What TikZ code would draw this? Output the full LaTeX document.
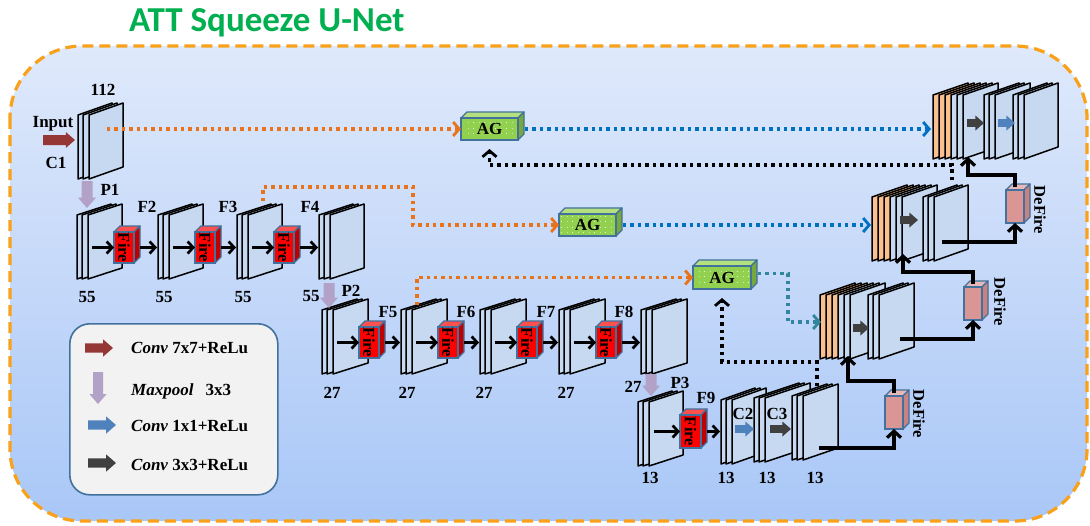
\documentclass[tikz,border=0pt]{standalone}
\usepackage{fontspec}
\setmainfont{Liberation Serif}
\newfontfamily\titlefont{Carlito}
\usetikzlibrary{arrows.meta,calc,patterns.meta}
\definecolor{sheetc}{HTML}{C6D9F1}
\definecolor{orsheet}{HTML}{FAC090}
\definecolor{dotor}{HTML}{E8731A}
\definecolor{dotbl}{HTML}{0070C0}
\definecolor{dotte}{HTML}{31859C}
\definecolor{boxor}{HTML}{F9A11B}
\definecolor{edgec}{HTML}{41719C}
\definecolor{firef}{HTML}{FF0000}
\definecolor{firet}{HTML}{FF5050}
\definecolor{fires}{HTML}{C00000}
\definecolor{dff}{HTML}{D99694}
\definecolor{dft}{HTML}{E6B9B8}
\definecolor{dfs}{HTML}{C88280}
\definecolor{agf}{HTML}{92D050}
\definecolor{agt}{HTML}{B5E07F}
\definecolor{ags}{HTML}{76A83C}
\definecolor{convred}{HTML}{953735}
\definecolor{poolc}{HTML}{B3A2C7}
\definecolor{convbl}{HTML}{4F81BD}
\definecolor{convgr}{HTML}{404040}
\definecolor{titleg}{HTML}{00B050}
\definecolor{bgtop}{HTML}{DFE9FB}
\definecolor{bgbot}{HTML}{A9C7F7}
\definecolor{legf}{HTML}{F2F2F2}
\tikzdeclarepattern{
  name=agdots,
  type=uncolored,
  bounding box={(0pt,0pt) and (1pt,1pt)},
  tile size={(5.5pt,5.5pt)},
  code={\pgfpathrectangle{\pgfpointorigin}{\pgfpoint{1pt}{1pt}}\pgfusepath{fill}}
}
% one feature sheet: x, ytop, width, slant, colour
\newcommand{\fsheet}[5]{%
  \filldraw[fill=#5, draw=black, line width=1.5pt, line join=round]
   ({#1},{#2}) -- ({#1+#3},{#2-#4}) -- ({#1+#3},{#2+64-#4}) -- ({#1},{#2+64}) -- cycle;}
% a stack of three sheets
\newcommand{\fstack}[4]{%
  \fsheet{#1}{#2}{#3}{#4}{sheetc}\fsheet{#1+5}{#2}{#3}{#4}{sheetc}\fsheet{#1+11}{#2}{#3}{#4}{sheetc}}
% concatenation group: 3 orange + 3 blue sheets
\newcommand{\dgroup}[2]{%
  \fsheet{#1}{#2}{35}{12}{orsheet}\fsheet{#1+6}{#2}{35}{12}{orsheet}\fsheet{#1+12}{#2}{35}{12}{orsheet}%
  \fsheet{#1+18}{#2}{35}{12}{sheetc}\fsheet{#1+24}{#2}{35}{12}{sheetc}\fsheet{#1+30}{#2}{35}{12}{sheetc}}
% cuboid: name, x, y, w, h, depth, front, top, side
\newcommand{\cube}[9]{%
  \filldraw[fill=#8, draw=edgec, line width=1.3pt, line join=round]
    ({#2},{#3}) -- ({#2+#6},{#3-#6}) -- ({#2+#4+#6},{#3-#6}) -- ({#2+#4},{#3}) -- cycle;
  \filldraw[fill=#9, draw=edgec, line width=1.3pt, line join=round]
    ({#2+#4},{#3}) -- ({#2+#4+#6},{#3-#6}) -- ({#2+#4+#6},{#3+#5-#6}) -- ({#2+#4},{#3+#5}) -- cycle;
  \node[draw=edgec, fill=#7, line width=1.3pt, minimum width=#4pt, minimum height=#5pt,
        inner sep=0pt, outer sep=0pt, anchor=north west] (#1) at ({#2},{#3}) {};}
% block arrow right: x1, x2, y, colour, half shaft, half head
\newcommand{\barR}[6]{%
  \fill[#4] ({#1},{#3-#5}) -- ({#2-1.15*#6},{#3-#5}) -- ({#2-1.15*#6},{#3-#6}) -- ({#2},{#3})
    -- ({#2-1.15*#6},{#3+#6}) -- ({#2-1.15*#6},{#3+#5}) -- ({#1},{#3+#5}) -- cycle;}
% block arrow down: x, y1, y2, colour, half shaft, half head
\newcommand{\barD}[6]{%
  \fill[#4] ({#1-#5},{#2}) -- ({#1-#5},{#3-1.15*#6}) -- ({#1-#6},{#3-1.15*#6}) -- ({#1},{#3})
    -- ({#1+#6},{#3-1.15*#6}) -- ({#1+#5},{#3-1.15*#6}) -- ({#1+#5},{#2}) -- cycle;}
\begin{document}
\begin{tikzpicture}[x=1pt,y=-1pt,
  lbl/.style={font=\bfseries\fontsize{17}{17}\selectfont, inner sep=0pt},
  firelbl/.style={font=\bfseries\fontsize{16.5}{16.5}\selectfont, inner sep=0pt, rotate=-90},
  legtxt/.style={font=\bfseries\fontsize{17}{17}\selectfont, inner sep=0pt, anchor=west},
  blk/.style={line width=2.7pt, -{Straight Barb[length=5.5pt,width=12pt]}},
  blkl/.style={line width=3.2pt, -{Straight Barb[length=6.5pt,width=14pt]}},
  odot/.style={dotor, line width=3.2pt, dash pattern=on 3.4pt off 4pt, -{Straight Barb[length=6pt,width=14pt,line width=2.8pt]}},
  bdot/.style={dotbl, line width=3.2pt, dash pattern=on 3.4pt off 4pt, -{Straight Barb[length=6pt,width=14pt,line width=2.8pt]}},
  tdot/.style={dotte, line width=3.2pt, dash pattern=on 3.4pt off 4pt, -{Straight Barb[length=6pt,width=14pt,line width=2.8pt]}},
  kdot/.style={black, line width=3.2pt, dash pattern=on 3.4pt off 4pt, -{Straight Barb[length=6pt,width=14pt,line width=2.8pt]}},
]
\useasboundingbox (0,0) rectangle (1090,525);
\fill[white] (0,0) rectangle (1090,525);
% background frame
\shade[top color=bgtop, bottom color=bgbot, rounded corners=72pt] (10,46) rectangle (1087,521);
\draw[boxor, line width=3.2pt, dash pattern=on 11pt off 6pt, rounded corners=72pt] (10,46) rectangle (1087,521);
\node[anchor=west, text=titleg, font=\titlefont\bfseries\fontsize{35}{35}\selectfont, inner sep=0pt] (title) at (129,23) {ATT Squeeze U-Net};

% legend
\node[draw=edgec, fill=legf, rounded corners=20pt, line width=1.6pt, minimum width=208pt, minimum height=171pt, inner sep=0pt, anchor=north west] (legend) at (69,323) {};
\barR{85}{113}{348}{convred}{4.7}{8.5}
\barD{98}{372}{404}{poolc}{5}{8.5}
\barR{88}{116}{425}{convbl}{4.7}{8.5}
\barR{88}{116}{463}{convgr}{4.7}{8.5}
\node[legtxt] (lg1) at (131,348) {\itshape Conv\upshape{} 7x7+ReLu};
\node[legtxt] (lg2) at (131,391) {\itshape Maxpool\upshape\hspace{12pt}3x3};
\node[legtxt] (lg3) at (131,426) {\itshape Conv\upshape{} 1x1+ReLu};
\node[legtxt] (lg4) at (131,465) {\itshape Conv\upshape{} 3x3+ReLu};

% encoder stacks
\fstack{78}{115}{34}{12}
\fstack{77}{215}{34}{11}\fstack{158}{215}{34}{11}\fstack{237}{215}{34}{11}\fstack{319}{215}{34}{11}
\fstack{322}{310}{35}{11}\fstack{401}{310}{35}{11}\fstack{480}{310}{35}{11}\fstack{559}{310}{35}{11}\fstack{641}{310}{35}{11}
\fstack{638}{402}{34}{11}\fstack{721}{400}{34}{12}\fstack{754}{398}{45}{15}\fstack{792}{396}{35}{12}
% decoder stacks
\dgroup{820}{295}\fstack{868}{295}{35}{12}
\dgroup{872}{197}\fstack{923}{197}{34}{12}
\dgroup{933}{95}\fstack{984}{95}{35}{12}\fstack{1013}{95}{34}{12}

% fire modules
\cube{f2}{114}{232}{20}{31}{6}{firef}{firet}{fires}
\cube{f3}{195}{232}{20}{31}{6}{firef}{firet}{fires}
\cube{f4}{274}{232}{20}{31}{6}{firef}{firet}{fires}
\cube{f5}{359}{327}{20}{31}{6}{firef}{firet}{fires}
\cube{f6}{438}{327}{20}{31}{6}{firef}{firet}{fires}
\cube{f7}{517}{327}{20}{31}{6}{firef}{firet}{fires}
\cube{f8}{596}{327}{20}{31}{6}{firef}{firet}{fires}
\cube{f9}{680}{415}{21}{33}{6}{firef}{firet}{fires}
\foreach \f in {f2,f3,f4,f5,f6,f7,f8,f9}{\node[firelbl] (\f t) at (\f.center) {Fire};}

% in-stack arrows
\coordinate (s2w) at (157,247.5);
\coordinate (s3w) at (236,247.5);
\coordinate (s4w) at (318,247.5);
\coordinate (t2w) at (400,342.5);
\coordinate (t3w) at (479,342.5);
\coordinate (t4w) at (558,342.5);
\coordinate (t5w) at (640,342.5);
\coordinate (u2w) at (720,431.5);
\draw[blk] ($(f2.west)+(-22,0)$) -- (f2.west);
\draw[blk] ($(f2.east)+(6,0)$) -- (s2w);
\draw[blk] ($(f3.west)+(-22,0)$) -- (f3.west);
\draw[blk] ($(f3.east)+(6,0)$) -- (s3w);
\draw[blk] ($(f4.west)+(-22,0)$) -- (f4.west);
\draw[blk] ($(f4.east)+(6,0)$) -- (s4w);
\draw[blk] ($(f5.west)+(-22,0)$) -- (f5.west);
\draw[blk] ($(f5.east)+(6,0)$) -- (t2w);
\draw[blk] ($(f6.west)+(-22,0)$) -- (f6.west);
\draw[blk] ($(f6.east)+(6,0)$) -- (t3w);
\draw[blk] ($(f7.west)+(-22,0)$) -- (f7.west);
\draw[blk] ($(f7.east)+(6,0)$) -- (t4w);
\draw[blk] ($(f8.west)+(-22,0)$) -- (f8.west);
\draw[blk] ($(f8.east)+(6,0)$) -- (t5w);
\draw[blk] ($(f9.west)+(-26,0)$) -- (f9.west);
\draw[blk] ($(f9.east)+(6,0)$) -- (u2w);

% block arrows
\barR{43}{75}{140}{convred}{5}{8}
\barD{87}{181}{208}{poolc}{5.5}{9}
\barD{329}{283}{308}{poolc}{5.5}{9}
\barD{651}{374}{396}{poolc}{5.5}{9}
\barR{735}{754}{429}{convbl}{3.8}{7.5}
\barR{770}{791}{429}{convgr}{3.8}{7.5}
\barR{853}{869}{328}{convgr}{3.8}{7.5}
\barR{900}{918}{220}{convgr}{3.8}{7.5}
\barR{967}{984}{123}{convgr}{3.8}{7.5}
\barR{998}{1015}{123}{convbl}{3.8}{7.5}

% attention gates
\cube{ag1}{461}{118}{57}{22}{6}{agf}{agt}{ags}
\cube{ag2}{559}{214}{57}{22}{6}{agf}{agt}{ags}
\cube{ag3}{693}{266}{58}{23}{6}{agf}{agt}{ags}
\foreach \a in {ag1,ag2,ag3}{%
  \fill[pattern=agdots, pattern color=white!80!agf] ($(\a.south west)+(2,-2)$) rectangle ($(\a.north east)+(-2,2)$);
  \node[lbl] (\a t) at (\a.center) {AG};}

% dotted skip / gating connectors
\coordinate (c1o) at (107,129);
\coordinate (d1in) at (931,129);
\coordinate (d2top) at (952,180);
\coordinate (f3top) at (263,201);
\coordinate (d2in) at (871,225);
\coordinate (f5top) at (417,305);
\coordinate (d3in) at (821,322);
\coordinate (s4top) at (817,386);
\draw[odot] (c1o) -- (ag1.west);
\draw[bdot] ($(ag1.east)+(7,0)$) -- (d1in);
\draw[kdot] (d2top) -- ++(0,-15) -| ($(ag1.south)+(0,9)$);
\draw[odot] (f3top) |- (413,187) |- (ag2.west);
\draw[bdot] ($(ag2.east)+(7,0)$) -- (d2in);
\draw[odot] (f5top) |- (ag3.west);
\draw[tdot] ($(ag3.east)+(7,-4)$) -| (788,322) -- (d3in);
\draw[kdot] (s4top) -- ++(0,-24) -| ($(ag3.south)+(0,9)$);

% DeFire modules
\cube{df1}{1006}{190}{18}{33}{6}{dff}{dft}{dfs}
\cube{df2}{964}{287}{18}{33}{6}{dff}{dft}{dfs}
\cube{df3}{885}{396}{18}{33}{6}{dff}{dft}{dfs}
\node[firelbl] (dfl1) at (1040,210) {DeFire};
\node[firelbl] (dfl2) at (1000,302) {DeFire};
\node[firelbl] (dfl3) at (919,414) {DeFire};

% decoder connectors
\coordinate (s4m) at (819,448);
\coordinate (d3b) at (848,356);
\coordinate (d3m) at (900,339);
\coordinate (d2b) at (903,254);
\coordinate (d2m) at (942,242);
\coordinate (d1b) at (968,157);
\draw[blkl] (s4m) -| (df3.south);
\draw[blkl] ($(df3.north)+(0,-3)$) -- ++(0,-12) -| (d3b);
\draw[blkl] (d3m) -| (df2.south);
\draw[blkl] ($(df2.north)+(0,-3)$) -- ++(0,-12) -| (d2b);
\draw[blkl] (d2m) -| (df1.south);
\draw[blkl] ($(df1.north)+(0,-3)$) -- ++(0,-12) -| (d1b);

% labels
\node[lbl] (l112) at (103,90) {112};
\node[lbl] (linput) at (53,124) {Input};
\node[lbl] (lc1) at (56,163) {C1};
\node[lbl] (lp1) at (110,190) {P1};
\node[lbl] (lf2) at (147,207) {F2};
\node[lbl] (lf3) at (228,207) {F3};
\node[lbl] (lf4) at (310,207) {F4};
\node[lbl] (n55a) at (87,297) {55};
\node[lbl] (n55b) at (164,297) {55};
\node[lbl] (n55c) at (243,297) {55};
\node[lbl] (n55d) at (311,296) {55};
\node[lbl] (lp2) at (351,291) {P2};
\node[lbl] (lf5) at (388,312) {F5};
\node[lbl] (lf6) at (466,312) {F6};
\node[lbl] (lf7) at (546,312) {F7};
\node[lbl] (lf8) at (624,312) {F8};
\node[lbl] (n27a) at (332,393) {27};
\node[lbl] (n27b) at (407,393) {27};
\node[lbl] (n27c) at (484,393) {27};
\node[lbl] (n27d) at (566,393) {27};
\node[lbl] (n27e) at (633,387) {27};
\node[lbl] (lp3) at (680,383) {P3};
\node[lbl] (lf9) at (706,398) {F9};
\node[lbl] (lc2) at (743,414) {C2};
\node[lbl] (lc3) at (777,414) {C3};
\node[lbl] (n13a) at (650,478) {13};
\node[lbl] (n13b) at (726,478) {13};
\node[lbl] (n13c) at (767,478) {13};
\node[lbl] (n13d) at (815,478) {13};
\end{tikzpicture}
\end{document}
